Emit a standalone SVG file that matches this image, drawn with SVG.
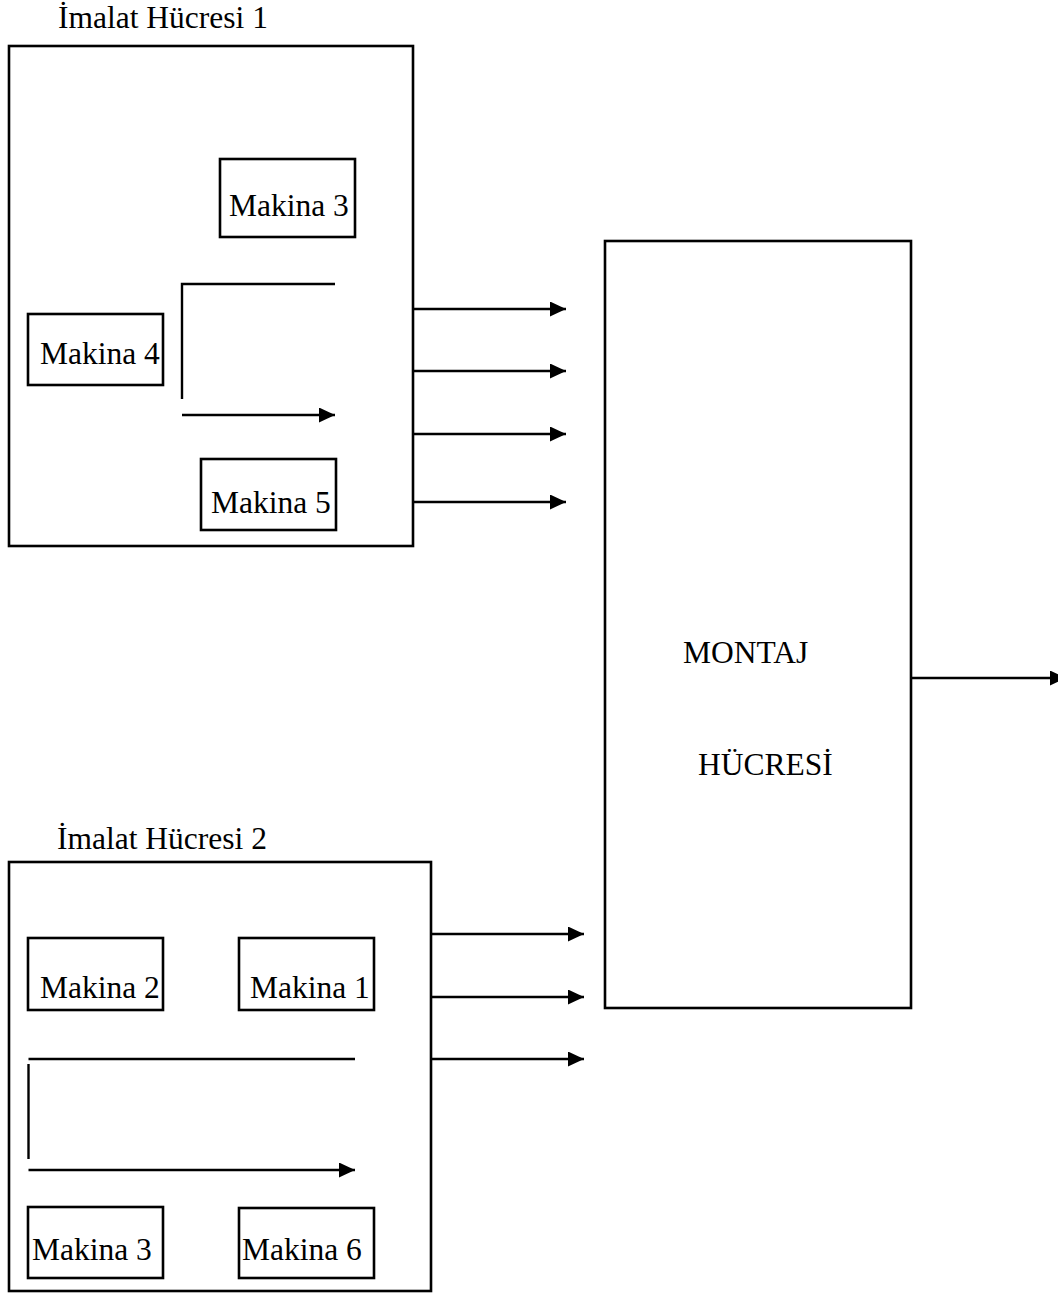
<svg xmlns="http://www.w3.org/2000/svg" width="1058" height="1293" viewBox="0 0 1058 1293">
<style>
.box{fill:none;stroke:#000;stroke-width:2.6}
.ln{fill:none;stroke:#000;stroke-width:2.4}
.t{font-family:"Liberation Serif","Times New Roman",serif;font-size:31.5px;fill:#000}
</style>
<defs>
<marker id="ah" markerUnits="userSpaceOnUse" markerWidth="17" markerHeight="16" refX="16" refY="7.5" orient="auto">
<path d="M0,0 L16,7.5 L0,15 z" fill="#000"/>
</marker>
</defs>
<rect width="1058" height="1293" fill="#fff"/>

<g id="cell1">
<text class="t" x="58" y="28">İmalat Hücresi 1</text>
<rect class="box" x="9" y="46" width="404" height="500"/>
</g>
<g id="c1-makina3">
<rect class="box" x="220" y="159" width="135" height="78"/>
<text class="t" x="229" y="216">Makina 3</text>
</g>
<g id="c1-makina4">
<rect class="box" x="28" y="314" width="135" height="71"/>
<text class="t" x="40" y="364">Makina 4</text>
</g>
<g id="c1-makina5">
<rect class="box" x="201" y="459" width="135" height="71"/>
<text class="t" x="211" y="513">Makina 5</text>
</g>

<g id="montaj">
<rect class="box" x="605" y="241" width="306" height="767"/>
<text class="t" x="683" y="663">MONTAJ</text>
<text class="t" x="698" y="775">HÜCRESİ</text>
</g>

<g id="cell2">
<text class="t" x="57" y="849">İmalat Hücresi 2</text>
<rect class="box" x="9" y="862" width="422" height="429"/>
</g>
<g id="c2-makina2">
<rect class="box" x="28" y="938" width="135" height="72"/>
<text class="t" x="40" y="998">Makina 2</text>
</g>
<g id="c2-makina1">
<rect class="box" x="239" y="938" width="135" height="72"/>
<text class="t" x="250" y="998">Makina 1</text>
</g>
<g id="c2-makina3">
<rect class="box" x="28" y="1207" width="135" height="71"/>
<text class="t" x="32" y="1260">Makina 3</text>
</g>
<g id="c2-makina6">
<rect class="box" x="239" y="1208" width="135" height="70"/>
<text class="t" x="242" y="1260">Makina 6</text>
</g>

<g id="connectors">
<polyline class="ln" points="182,399 182,284 335,284"/>
<line class="ln" x1="182" y1="415" x2="335" y2="415" marker-end="url(#ah)"/>
<line class="ln" x1="413" y1="309" x2="566" y2="309" marker-end="url(#ah)"/>
<line class="ln" x1="413" y1="371" x2="566" y2="371" marker-end="url(#ah)"/>
<line class="ln" x1="413" y1="434" x2="566" y2="434" marker-end="url(#ah)"/>
<line class="ln" x1="413" y1="502" x2="566" y2="502" marker-end="url(#ah)"/>
<line class="ln" x1="911" y1="678" x2="1066" y2="678" marker-end="url(#ah)"/>
<line class="ln" x1="28.5" y1="1059" x2="355" y2="1059"/>
<line class="ln" x1="28.5" y1="1064" x2="28.5" y2="1159"/>
<line class="ln" x1="28.5" y1="1170" x2="355" y2="1170" marker-end="url(#ah)"/>
<line class="ln" x1="431" y1="934" x2="584" y2="934" marker-end="url(#ah)"/>
<line class="ln" x1="431" y1="997" x2="584" y2="997" marker-end="url(#ah)"/>
<line class="ln" x1="431" y1="1059" x2="584" y2="1059" marker-end="url(#ah)"/>
</g>
</svg>
